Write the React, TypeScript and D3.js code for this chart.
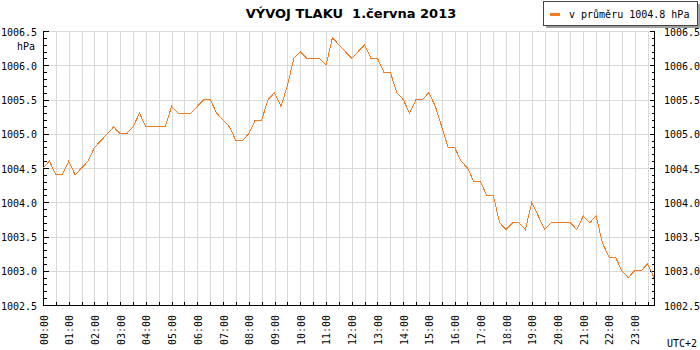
import * as d3 from 'd3';

// tlak po 15 minutach, 00:00 - 23:45
const pressure: number[] = [
  1004.5, 1004.6, 1004.4, 1004.4, 1004.6, 1004.4, 1004.5, 1004.6,
  1004.8, 1004.9, 1005.0, 1005.1, 1005.0, 1005.0, 1005.1, 1005.3,
  1005.1, 1005.1, 1005.1, 1005.1, 1005.4, 1005.3, 1005.3, 1005.3,
  1005.4, 1005.5, 1005.5, 1005.3, 1005.2, 1005.1, 1004.9, 1004.9,
  1005.0, 1005.2, 1005.2, 1005.5, 1005.6, 1005.4, 1005.7, 1006.1,
  1006.2, 1006.1, 1006.1, 1006.1, 1006.0, 1006.4, 1006.3, 1006.2,
  1006.1, 1006.2, 1006.3, 1006.1, 1006.1, 1005.9, 1005.9, 1005.6,
  1005.5, 1005.3, 1005.5, 1005.5, 1005.6, 1005.4, 1005.1, 1004.8,
  1004.8, 1004.6, 1004.5, 1004.3, 1004.3, 1004.1, 1004.1, 1003.7,
  1003.6, 1003.7, 1003.7, 1003.6, 1004.0, 1003.8, 1003.6, 1003.7,
  1003.7, 1003.7, 1003.7, 1003.6, 1003.8, 1003.7, 1003.8, 1003.4,
  1003.2, 1003.2, 1003.0, 1002.9, 1003.0, 1003.0, 1003.1, 1002.9,
];

const hourLabels: string[] = [
  '00:00', '01:00', '02:00', '03:00', '04:00', '05:00', '06:00', '07:00',
  '08:00', '09:00', '10:00', '11:00', '12:00', '13:00', '14:00', '15:00',
  '16:00', '17:00', '18:00', '19:00', '20:00', '21:00', '22:00', '23:00',
];

const yTickLabels: string[] = [
  '1002.5', '1003.0', '1003.5', '1004.0', '1004.5', '1005.0', '1005.5', '1006.0', '1006.5',
];

const title = 'VÝVOJ TLAKU\u00a0\u00a01.června 2013';
const legendText = 'v průměru 1004.8 hPa';
const unitText = 'hPa';
const zoneText = 'UTC+2';

const width = 700;
const height = 350;
const left = 43;
const right = 654;
const top = 31;
const bottom = 305;
const stepMinutes = 15;

const lineColor = '#f47b20';
const gridColor = '#d9d9d9';
const mono = '"DejaVu Sans Mono", monospace';

const App: React.FC = () => {
  const lastMinute = (pressure.length - 1) * stepMinutes;
  const x = d3.scaleLinear().domain([0, lastMinute]).range([left, right]);
  const y = d3.scaleLinear().domain([1002.5, 1006.5]).range([bottom, top]);

  const px = (v: number) => Math.round(v) + 0.5;

  const line = d3
    .line<number>()
    .x((_, i) => x(i * stepMinutes))
    .y((d) => y(d));

  const halfHours = d3.range(0, lastMinute, 30);
  const minorY = d3.range(0, 41).map((k) => 1002.5 + k * 0.1);
  const majorY = yTickLabels.map((t) => +t);

  return (
    <svg
      width={width}
      height={height}
      style={{ position: 'absolute', left: 0, top: 0, background: '#fff' }}
    >
      {/* grid */}
      <g stroke={gridColor} strokeWidth={1} shapeRendering="crispEdges">
        {halfHours.slice(1).map((m) => (
          <line key={'gx' + m} x1={px(x(m))} x2={px(x(m))} y1={top} y2={bottom} />
        ))}
        {majorY.slice(1).map((v) => (
          <line key={'gy' + v} x1={left} x2={right} y1={px(y(v))} y2={px(y(v))} />
        ))}
      </g>

      {/* axes */}
      <g stroke="#000" strokeWidth={1} shapeRendering="crispEdges">
        <line x1={px(left)} x2={px(left)} y1={top} y2={px(bottom)} />
        <line x1={px(right)} x2={px(right)} y1={top} y2={px(bottom)} />
        <line x1={left} x2={right + 1} y1={px(bottom)} y2={px(bottom)} />
        {minorY.map((v, i) => {
          const len = i % 5 === 0 ? 5 : 3;
          const yy = px(y(v));
          return (
            <g key={'ty' + i}>
              <line x1={px(left)} x2={px(left) + len} y1={yy} y2={yy} />
              <line x1={px(right) - len} x2={px(right)} y1={yy} y2={yy} />
            </g>
          );
        })}
        {halfHours.map((m) => (
          <line key={'tx' + m} x1={px(x(m))} x2={px(x(m))} y1={px(bottom) - 4} y2={px(bottom)} />
        ))}
      </g>

      {/* y labels */}
      <g fontFamily={mono} fontSize={10} fill="#000">
        {yTickLabels.map((t) => (
          <g key={'ly' + t}>
            <text x={37} y={y(+t) + 1} dy="0.35em" textAnchor="end">
              {t}
            </text>
            <text x={664} y={y(+t) + 1} dy="0.35em">
              {t}
            </text>
          </g>
        ))}
        <text x={35} y={y(1006.5) + 15} dy="0.35em" textAnchor="end">
          {unitText}
        </text>
        {hourLabels.map((t, i) => (
          <text
            key={'lx' + t}
            transform={`translate(${x(i * 60) + 1},315) rotate(-90)`}
            dy="0.35em"
            textAnchor="end"
          >
            {t}
          </text>
        ))}
        <text x={667} y={347}>
          {zoneText}
        </text>
      </g>

      {/* data */}
      <path
        d={line(pressure) ?? ''}
        fill="none"
        stroke={lineColor}
        strokeWidth={1}
        shapeRendering="crispEdges"
      />

      {/* title */}
      <text
        x={351}
        y={18}
        textAnchor="middle"
        fontFamily='"DejaVu Sans", sans-serif'
        fontWeight="bold"
        fontSize={13}
        fill="#000"
      >
        {title}
      </text>

      {/* legend */}
      <g shapeRendering="crispEdges">
        <rect x={546} y={4} width={154} height={24} fill="#a0a0a0" />
        <rect x={543.5} y={1.5} width={154} height={24} fill="#fff" stroke="#444" />
        <line x1={550} x2={560} y1={14} y2={14} stroke={lineColor} strokeWidth={3} />
        <text x={569} y={17.5} fontFamily={mono} fontSize={10} fill="#000">
          {legendText}
        </text>
      </g>
    </svg>
  );
};

export default App;
